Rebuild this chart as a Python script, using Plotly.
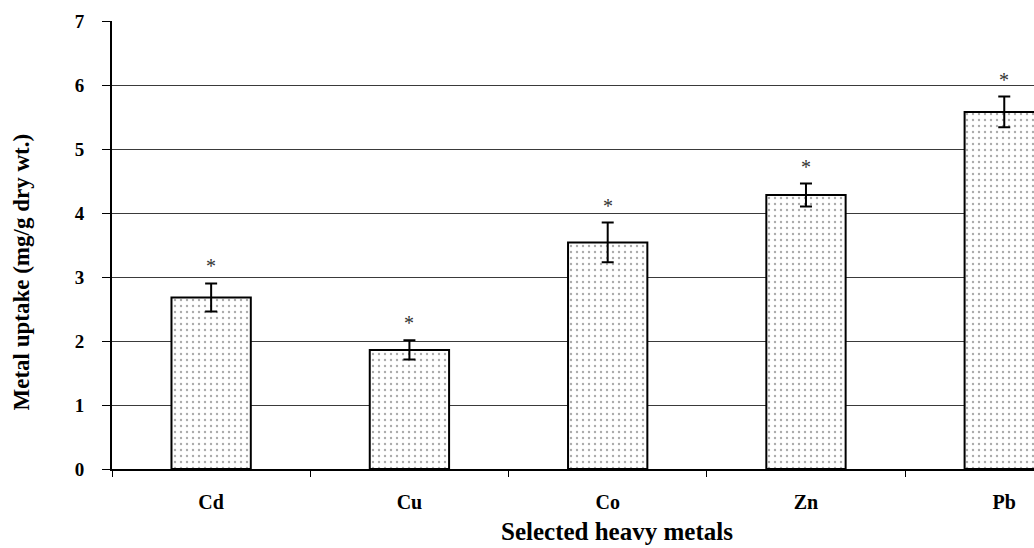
import plotly.graph_objects as go

# Metal uptake by the biomass for each heavy metal (mg/g dry wt.)
metals = ["Cd", "Cu", "Co", "Zn", "Pb"]
uptake = [2.68, 1.86, 3.54, 4.28, 5.58]
uptake_sd = [0.22, 0.15, 0.31, 0.18, 0.24]
significance = ["*", "*", "*", "*", "*"]
y_ticks = [0, 1, 2, 3, 4, 5, 6, 7]

SERIF = "Liberation Serif"

fig = go.Figure()
fig.add_trace(go.Bar(
    x=metals,
    y=uptake,
    width=0.4,
    marker=dict(
        color="white",
        line=dict(color="black", width=2),
        pattern=dict(shape=".", fgcolor="#555555", bgcolor="white",
                     size=6, solidity=0.12),
    ),
    error_y=dict(type="data", array=uptake_sd, visible=True,
                 color="black", thickness=2, width=6),
    showlegend=False,
    hoverinfo="skip",
))

# significance marks above each error bar
for m, v, e, s in zip(metals, uptake, uptake_sd, significance):
    fig.add_annotation(x=m, y=v + e, text=s, showarrow=False,
                       yanchor="middle", yshift=17,
                       font=dict(family=SERIF, size=20, color="#333333"))

fig.add_annotation(text="Selected heavy metals", xref="paper", yref="paper",
                   x=0.548, y=-0.14, showarrow=False,
                   xanchor="center", yanchor="middle",
                   font=dict(family=SERIF, size=25, color="black", weight="bold"))
fig.add_annotation(text="Metal uptake (mg/g dry wt.)", xref="paper", yref="paper",
                   x=-0.098, y=0.44, showarrow=False, textangle=-90,
                   xanchor="center", yanchor="middle",
                   font=dict(family=SERIF, size=23, color="black", weight="bold"))

fig.update_layout(
    width=1034, height=548,
    margin=dict(l=112, r=0, t=21, b=79),
    paper_bgcolor="white", plot_bgcolor="white",
    bargap=0.6,
    xaxis=dict(
        range=[-0.5, 4.15],
        tickson="boundaries",
        ticks="outside", ticklen=6, tickcolor="black", tickwidth=1,
        showline=True, linecolor="black", linewidth=2,
        showgrid=False, zeroline=False,
        ticklabelstandoff=14,
        tickfont=dict(family=SERIF, size=20, color="black", weight="bold"),
    ),
    yaxis=dict(
        range=[0, 7],
        tickvals=y_ticks,
        ticks="outside", ticklen=8, tickcolor="black", tickwidth=1,
        showline=True, linecolor="black", linewidth=2,
        showgrid=True, gridcolor="#3a3a3a", gridwidth=1,
        zeroline=False,
        ticklabelstandoff=14,
        tickfont=dict(family=SERIF, size=19, color="black", weight="bold"),
    ),
)

fig.write_html("out.html")
